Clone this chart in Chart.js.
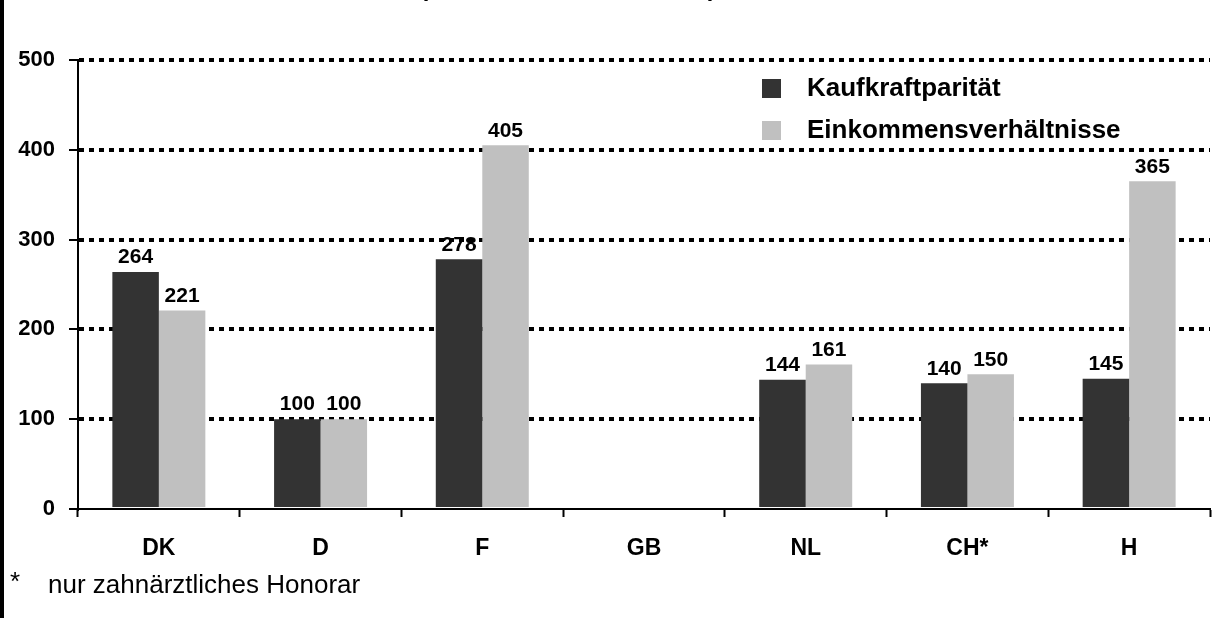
<!DOCTYPE html>
<html>
<head>
<meta charset="utf-8">
<script src="https://cdn.jsdelivr.net/npm/chart.js@4"></script>
<style>
  html, body { margin: 0; padding: 0; background: #fff; }
  #wrap { width: 1221px; height: 618px; position: relative; }
</style>
</head>
<body>
<div id="wrap"><canvas id="chart" width="1221" height="618"></canvas></div>
<script>
// Chart data
const categories = ['DK', 'D', 'F', 'GB', 'NL', 'CH*', 'H'];
const kaufkraft = [264, 100, 278, null, 144, 140, 145];
const einkommen = [221, 100, 405, null, 161, 150, 365];
const seriesNames = ['Kaufkraftparität', 'Einkommensverhältnisse'];
const yTicks = [0, 100, 200, 300, 400, 500];
const footnote = ['*', 'nur zahnärztliches Honorar'];

const DARK = '#333333';
const LIGHT = '#c0c0c0';
const FONT = '"Liberation Sans", Arial, sans-serif';

// Value labels above bars
const valueLabels = {
  id: 'valueLabels',
  afterDatasetsDraw(chart) {
    const ctx = chart.ctx;
    ctx.save();
    ctx.font = 'bold 21px ' + FONT;
    ctx.fillStyle = '#000';
    ctx.textAlign = 'center';
    ctx.textBaseline = 'bottom';
    chart.data.datasets.forEach((ds, i) => {
      chart.getDatasetMeta(i).data.forEach((bar, j) => {
        if (ds.data[j] == null) return;
        ctx.fillText(String(ds.data[j]), bar.x, bar.y - 4);
      });
    });
    ctx.restore();
  }
};

// Legend, footnote, frame, cut-off title
const extras = {
  id: 'extras',
  afterDraw(chart) {
    const ctx = chart.ctx;
    ctx.save();
    // left frame line
    ctx.fillStyle = '#000';
    ctx.fillRect(0, 0, 4, chart.height);

    // legend
    const colors = [DARK, LIGHT];
    ctx.font = 'bold 26px ' + FONT;
    ctx.textBaseline = 'middle';
    ctx.textAlign = 'left';
    seriesNames.forEach((name, i) => {
      const y = 89 + i * 42;
      ctx.fillStyle = colors[i];
      ctx.fillRect(762, y - 10, 19, 19);
      ctx.fillStyle = '#000';
      ctx.fillText(name, 807, y);
    });

    // footnote
    ctx.font = '26px ' + FONT;
    ctx.fillText(footnote[0], 10, 583);
    ctx.fillText(footnote[1], 48, 586);

    // title cut off at the top edge
    ctx.font = 'bold 24px ' + FONT;
    ctx.textBaseline = 'alphabetic';
    ctx.fillText('(', 420, -4);
    ctx.fillText(')', 708, -4);
    ctx.restore();
  }
};

new Chart(document.getElementById('chart'), {
  type: 'bar',
  data: {
    labels: categories,
    datasets: [
      { label: seriesNames[0], data: kaufkraft, backgroundColor: DARK },
      { label: seriesNames[1], data: einkommen, backgroundColor: LIGHT }
    ]
  },
  options: {
    responsive: false,
    animation: false,
    layout: { padding: { left: 0, right: 11, top: 60, bottom: 0 } },
    datasets: { bar: { categoryPercentage: 0.575, barPercentage: 1 } },
    plugins: {
      legend: { display: false },
      tooltip: { enabled: false },
      title: { display: false }
    },
    scales: {
      x: {
        afterFit: s => { s.height = 109; },
        grid: {
          drawOnChartArea: false,
          drawTicks: true,
          tickLength: 8,
          tickColor: '#000',
          tickWidth: 2,
          offset: true
        },
        border: { color: '#000', width: 2 },
        ticks: {
          color: '#000',
          padding: 18,
          font: { family: FONT, size: 23, weight: 'bold' }
        }
      },
      y: {
        min: 0,
        max: 500,
        afterFit: s => { s.width = 78; },
        afterBuildTicks: s => { s.ticks = yTicks.map(v => ({ value: v })); },
        grid: {
          color: c => (c.tick && c.tick.value === 0 ? 'rgba(0,0,0,0)' : '#000'),
          lineWidth: 4,
          tickLength: 9,
          tickColor: '#000',
          tickWidth: 2,
          tickBorderDash: []
        },
        border: { color: '#000', width: 2, dash: [5, 5], dashOffset: -10 },
        ticks: {
          color: '#000',
          padding: 14,
          font: { family: FONT, size: 22, weight: 'bold' }
        }
      }
    }
  },
  plugins: [valueLabels, extras]
});
</script>
</body>
</html>
